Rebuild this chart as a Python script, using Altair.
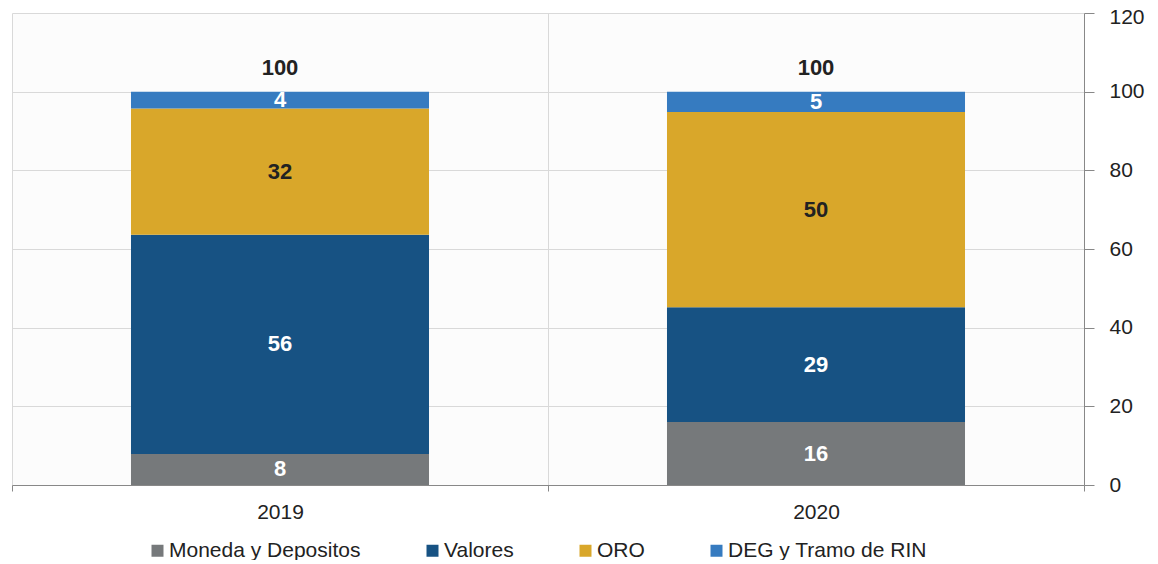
import altair as alt
import pandas as pd

years = ["2019", "2020"]
series = ["Moneda y Depositos", "Valores", "ORO", "DEG y Tramo de RIN"]
moneda = [7.9, 16.0]
valores = [55.7, 29.2]
oro = [32.1, 49.6]
deg = [4.3, 5.2]
totals = [100, 100]
colors = ["#76797b", "#175283", "#d9a72a", "#367bc0"]
label_colors = ["#ffffff", "#ffffff", "#222222", "#ffffff"]

FONT = "Liberation Sans"

rows = []
for i, yr in enumerate(years):
    for j, (s, vals) in enumerate(zip(series, [moneda, valores, oro, deg])):
        rows.append({"year": yr, "series": s, "value": vals[i], "order": j,
                     "label": str(int(round(vals[i]))), "lc": label_colors[j]})
df = pd.DataFrame(rows)
tot = pd.DataFrame({"year": years, "total": totals, "label": [str(t) for t in totals]})

xenc = alt.X("year:N", sort=years,
             scale=alt.Scale(paddingInner=0, paddingOuter=0),
             axis=alt.Axis(title=None, labelAngle=0, tickBand="extent", grid=True,
                           gridColor="#d9d9d9", domainColor="#888888", tickColor="#888888",
                           tickSize=6, labelFontSize=21, labelFont=FONT, labelColor="#222222",
                           labelPadding=10))
yscale = alt.Scale(domain=[0, 120], nice=False)

base = alt.Chart(df).transform_stack(
    stack="value", as_=["y0", "y1"], groupby=["year"], sort=[alt.SortField("order")]
).transform_calculate(mid="(datum.y0 + datum.y1) / 2")

bars = base.mark_bar(width={"band": 0.556}).encode(
    x=xenc,
    y=alt.Y("y0:Q", scale=yscale,
            axis=alt.Axis(title=None, orient="right", values=[0, 20, 40, 60, 80, 100, 120],
                          grid=True, gridColor="#d9d9d9", domainColor="#888888",
                          tickColor="#888888", tickSize=10, labelPadding=15,
                          labelBaseline={"condition": {"test": "datum.value == 120", "value": "top"}, "value": "middle"},
                          labelOffset={"condition": {"test": "datum.value == 120", "value": -7}, "value": 0},
                          labelFontSize=21, labelFont=FONT, labelColor="#222222")),
    y2="y1:Q",
    color=alt.Color("series:N", scale=alt.Scale(domain=series, range=colors),
                    legend=alt.Legend(title=None, orient="none", legendX=135, legendY=527,
                                      direction="horizontal", symbolType="square",
                                      symbolSize=144, symbolStrokeWidth=0,
                                      labelFontSize=21, labelFont=FONT, labelColor="#222222",
                                      labelLimit=400, columnPadding=61, labelOffset=1)),
)

labels = base.mark_text(fontSize=22, fontWeight="bold", font=FONT, baseline="middle").encode(
    x=alt.X("year:N", sort=years),
    y=alt.Y("mid:Q", scale=yscale),
    text="label:N",
    color=alt.Color("lc:N", scale=None),
)

tot_text = alt.Chart(tot).mark_text(fontSize=22, fontWeight="bold", font=FONT,
                                    baseline="middle", dy=-24, color="#222222").encode(
    x=alt.X("year:N", sort=years),
    y=alt.Y("total:Q", scale=yscale),
    text="label:N",
)

chart = alt.layer(bars, labels, tot_text).properties(
    width=1072, height=472,
    autosize=alt.AutoSizeParams(type="none"),
    padding={"left": 4, "top": 5, "right": 66, "bottom": 75},
).configure_view(stroke="transparent", fill="#fcfcfc")

chart.save("out.html", embed_options={"renderer": "svg", "actions": False})
